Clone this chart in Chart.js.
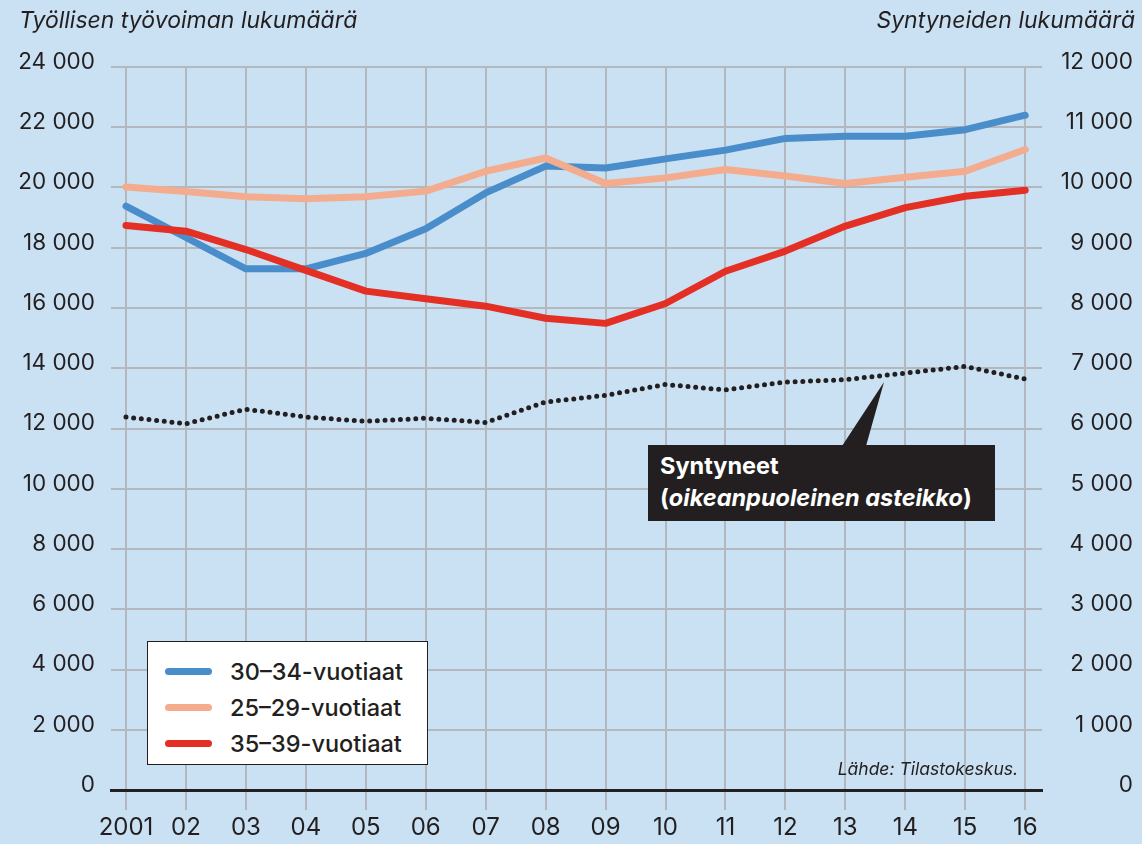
<!DOCTYPE html>
<html lang="fi">
<head>
    <meta charset="UTF-8">
    <title>Työllisen työvoiman lukumäärä ja syntyneet</title>
    <script src="https://cdn.jsdelivr.net/npm/chart.js@4.4.1/dist/chart.umd.min.js"></script>
    <style>
        html, body { margin: 0; padding: 0; }
        body {
            width: 1142px;
            height: 844px;
            position: relative;
            overflow: hidden;
            background: #cae1f3;
            font-family: Inter, "Noto Sans", sans-serif;
            color: #231f20;
        }
        #chart { position: absolute; left: 0; top: 0; }
        .axis-title {
            position: absolute;
            top: 6px;
            font-size: 23px;
            font-style: italic;
            white-space: nowrap;
        }
        #leftTitle { left: 19px; }
        #rightTitle { right: 7px; }
        #legend {
            position: absolute;
            left: 147px;
            top: 641px;
            width: 281px;
            height: 124px;
            background: #fff;
            border: 1px solid #231f20;
            box-sizing: border-box;
            padding-top: 11px;
        }
        .legend-item {
            height: 36px;
            display: flex;
            align-items: center;
            font-size: 23.5px;
            font-weight: 500;
        }
        .legend-swatch {
            width: 47px;
            height: 7px;
            border-radius: 4px;
            margin-left: 17px;
            margin-right: 18px;
        }
        #callout {
            position: absolute;
            left: 648px;
            top: 445px;
            width: 347px;
            height: 76px;
            background: #231f20;
            color: #fff;
            box-sizing: border-box;
            padding: 5px 0 0 12px;
            font-size: 23.5px;
            font-weight: 700;
            line-height: 32px;
        }
        #pointer {
            position: absolute;
            left: 842px;
            top: 382px;
            width: 43px;
            height: 64px;
            background: #231f20;
            clip-path: polygon(0 100%, 24px 100%, 42px 0);
        }
        #source {
            position: absolute;
            right: 124px;
            top: 758px;
            font-size: 17.5px;
            font-style: italic;
        }
    </style>
</head>
<body>
    <canvas id="chart" width="1142" height="844"></canvas>
    <div class="axis-title" id="leftTitle">Työllisen työvoiman lukumäärä</div>
    <div class="axis-title" id="rightTitle">Syntyneiden lukumäärä</div>
    <div id="pointer"></div>
    <div id="callout">Syntyneet<br>(<i>oikeanpuoleinen asteikko</i>)</div>
    <div id="legend"></div>
    <div id="source">Lähde: Tilastokeskus.</div>

    <script>
        // vuodet
        const years = ['2001', '02', '03', '04', '05', '06', '07', '08', '09', '10', '11', '12', '13', '14', '15', '16'];

        // työllinen työvoima (vasen asteikko)
        const age3034 = [19380, 18340, 17300, 17300, 17810, 18630, 19820, 20710, 20650, 20950, 21240, 21630, 21700, 21700, 21920, 22400];
        const age2529 = [20020, 19870, 19690, 19630, 19690, 19880, 20540, 20980, 20130, 20320, 20600, 20380, 20130, 20340, 20540, 21260];
        const age3539 = [18740, 18550, 17940, 17250, 16560, 16310, 16060, 15660, 15490, 16150, 17220, 17890, 18720, 19330, 19710, 19910];

        // syntyneet (oikea asteikko)
        const births = [6190, 6080, 6320, 6190, 6120, 6170, 6100, 6440, 6550, 6730, 6640, 6770, 6810, 6920, 7030, 6820];

        const seriesNames = ['30–34-vuotiaat', '25–29-vuotiaat', '35–39-vuotiaat'];
        const seriesColors = ['#4a8dcb', '#f4ac8f', '#e42f25'];
        const seriesValues = [age3034, age2529, age3539];

        const ink = '#231f20';
        const gridColor = '#b3b7be';

        function toPoints(arr) {
            return arr.map((v, i) => ({ x: i, y: v }));
        }

        function fmt(v) {
            return v >= 1000 ? Math.floor(v / 1000) + ' ' + String(v % 1000).padStart(3, '0') : String(v);
        }

        const datasets = seriesValues.map((vals, i) => ({
            label: seriesNames[i],
            data: toPoints(vals),
            borderColor: seriesColors[i],
            borderWidth: 7,
            borderCapStyle: 'round',
            borderJoinStyle: 'round',
            pointRadius: 0,
            yAxisID: 'y',
            order: 3 - i
        }));
        datasets.push({
            label: 'Syntyneet',
            data: toPoints(births),
            borderColor: ink,
            borderWidth: 5,
            borderDash: [0, 7.7],
            borderCapStyle: 'round',
            pointRadius: 0,
            yAxisID: 'y2',
            order: 0
        });

        // legenda HTML:nä
        const legendEl = document.getElementById('legend');
        seriesNames.forEach((name, i) => {
            const item = document.createElement('div');
            item.className = 'legend-item';
            item.innerHTML = '<span class="legend-swatch" style="background:' + seriesColors[i] + '"></span>' + name;
            legendEl.appendChild(item);
        });

        new Chart(document.getElementById('chart'), {
            type: 'line',
            data: { datasets: datasets },
            options: {
                responsive: false,
                animation: false,
                layout: { padding: { top: 67, right: 9, bottom: 0, left: 0 } },
                plugins: { legend: { display: false }, tooltip: { enabled: false } },
                scales: {
                    x: {
                        type: 'linear',
                        min: -0.25,
                        max: 15.28,
                        afterFit: (s) => { s.height = 54; },
                        ticks: {
                            stepSize: 1,
                            includeBounds: false,
                            autoSkip: false,
                            maxRotation: 0,
                            padding: 3,
                            color: ink,
                            font: { family: 'Inter', size: 24 },
                            callback: (v) => years[v]
                        },
                        grid: { color: gridColor, lineWidth: 2, tickLength: 20 },
                        border: { display: true, color: ink, width: 3 }
                    },
                    y: {
                        position: 'left',
                        min: 0,
                        max: 24000,
                        afterFit: (s) => { s.width = 111; },
                        ticks: {
                            stepSize: 2000,
                            padding: 16,
                            labelOffset: -5,
                            color: ink,
                            font: { family: 'Inter', size: 22.5 },
                            callback: (v) => fmt(v)
                        },
                        grid: {
                            drawTicks: false,
                            lineWidth: 2,
                            color: (ctx) => ctx.tick && ctx.tick.value === 0 ? 'rgba(0,0,0,0)' : gridColor
                        },
                        border: { display: false }
                    },
                    y2: {
                        position: 'right',
                        min: 0,
                        max: 12000,
                        afterFit: (s) => { s.width = 91; },
                        ticks: {
                            stepSize: 1000,
                            crossAlign: 'far',
                            labelOffset: -5,
                            color: ink,
                            font: { family: 'Inter', size: 22.5 },
                            callback: (v) => fmt(v)
                        },
                        grid: { drawOnChartArea: false, drawTicks: false },
                        border: { display: false }
                    }
                }
            }
        });
    </script>
</body>
</html>
